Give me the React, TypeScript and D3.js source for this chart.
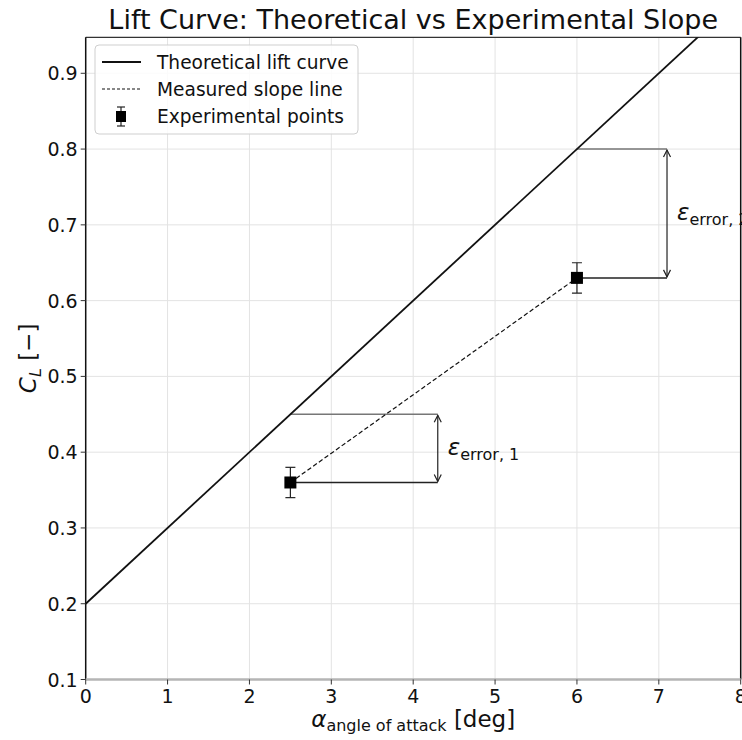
import React from "react";
import * as d3 from "d3";

const xTicks = [0, 1, 2, 3, 4, 5, 6, 7, 8];
const yTicks = [0.1, 0.2, 0.3, 0.4, 0.5, 0.6, 0.7, 0.8, 0.9];
const theoryAlpha = [0, 7.5];
const theoryCL = [0.2, 0.95];
const expAlpha = [2.5, 6];
const expCL = [0.36, 0.63];
const expErr = [0.02, 0.02];
const errTheoryCL = [0.45, 0.8];
const errArrowAlpha = [4.3, 7.1];
const errLabels = ["error, 1", "error, 2"];
const legendLabels = ["Theoretical lift curve", "Measured slope line", "Experimental points"];

const W = 742, H = 740;
const left = 85.7, right = 740.7, top = 37.3, bottom = 679.5;
const FONT = "DejaVu Sans, sans-serif";

export default function App() {
  const x = d3.scaleLinear().domain([0, 8]).range([left, right]);
  const y = d3.scaleLinear().domain([0.1, 0.9475]).range([bottom, top]);
  const line = d3.line<[number, number]>().x(d => x(d[0])).y(d => y(d[1]));
  const theory: [number, number][] = theoryAlpha.map((a, i) => [a, theoryCL[i]]);
  const meas: [number, number][] = expAlpha.map((a, i) => [a, expCL[i]]);

  const arrowHead = (px: number, py: number, dir: number) => {
    const s = 7, w = 3.5;
    return `M${px - w},${py - dir * s} L${px},${py} L${px + w},${py - dir * s}`;
  };

  return (
    <div style={{ position: "absolute", left: 0, top: 0, width: W, height: H, background: "#fff" }}>
      <svg width={W} height={H} style={{ display: "block", fontFamily: FONT }}>
        <defs>
          <clipPath id="plotclip">
            <rect x={left} y={top} width={right - left} height={bottom - top} />
          </clipPath>
        </defs>
        <rect x={0} y={0} width={W} height={H} fill="#fff" />
        <g stroke="#e3e3e3" strokeWidth={1}>
          {xTicks.map(t => (
            <line key={"gx" + t} x1={x(t)} x2={x(t)} y1={top} y2={bottom} />
          ))}
          {yTicks.map(t => (
            <line key={"gy" + t} x1={left} x2={right} y1={y(t)} y2={y(t)} />
          ))}
        </g>
        <line x1={left} x2={right} y1={top} y2={top} stroke="#333" strokeWidth={1.2} />
        <line x1={left} x2={left} y1={top} y2={bottom} stroke="#111" strokeWidth={1.5} />
        <line x1={right} x2={right} y1={top} y2={bottom} stroke="#111" strokeWidth={1.5} />
        <line x1={left} x2={right} y1={bottom} y2={bottom} stroke="#b5b5b5" strokeWidth={2.5} />
        <g stroke="#333" strokeWidth={1}>
          {xTicks.map(t => (
            <line key={"tx" + t} x1={x(t)} x2={x(t)} y1={bottom} y2={bottom + 5} />
          ))}
          {yTicks.map(t => (
            <line key={"ty" + t} x1={left - 5} x2={left} y1={y(t)} y2={y(t)} />
          ))}
        </g>
        <g fontSize={19} fill="#111">
          {xTicks.map(t => (
            <text key={"lx" + t} x={x(t)} y={bottom + 23} textAnchor="middle">{t}</text>
          ))}
          {yTicks.map(t => (
            <text key={"ly" + t} x={left - 8} y={y(t) + 7} textAnchor="end">{t.toFixed(1)}</text>
          ))}
        </g>
        <g clipPath="url(#plotclip)">
          {expAlpha.map((a, i) => (
            <g key={"ann" + i}>
              <line x1={x(a)} x2={x(errArrowAlpha[i])} y1={y(errTheoryCL[i])} y2={y(errTheoryCL[i])} stroke="#777" strokeWidth={1.5} />
              <line x1={x(a)} x2={x(errArrowAlpha[i])} y1={y(expCL[i])} y2={y(expCL[i])} stroke="#222" strokeWidth={1.5} />
              <line x1={x(errArrowAlpha[i])} x2={x(errArrowAlpha[i])} y1={y(errTheoryCL[i]) + 1} y2={y(expCL[i]) - 1} stroke="#222" strokeWidth={1.2} />
              <path d={arrowHead(x(errArrowAlpha[i]), y(errTheoryCL[i]) + 1, -1)} fill="none" stroke="#222" strokeWidth={1.2} />
              <path d={arrowHead(x(errArrowAlpha[i]), y(expCL[i]) - 1, 1)} fill="none" stroke="#222" strokeWidth={1.2} />
            </g>
          ))}
          <path d={line(theory) || ""} fill="none" stroke="#111" strokeWidth={1.8} />
          <path d={line(meas) || ""} fill="none" stroke="#111" strokeWidth={1.2} strokeDasharray="4.5,2.5" />
          {expAlpha.map((a, i) => (
            <g key={"pt" + i} stroke="#222" strokeWidth={1.2}>
              <line x1={x(a)} x2={x(a)} y1={y(expCL[i] - expErr[i])} y2={y(expCL[i] + expErr[i])} />
              <line x1={x(a) - 5} x2={x(a) + 5} y1={y(expCL[i] - expErr[i])} y2={y(expCL[i] - expErr[i])} />
              <line x1={x(a) - 5} x2={x(a) + 5} y1={y(expCL[i] + expErr[i])} y2={y(expCL[i] + expErr[i])} />
              <rect x={x(a) - 6} y={y(expCL[i]) - 6} width={12} height={12} fill="#000" stroke="none" />
            </g>
          ))}
        </g>
        {expAlpha.map((a, i) => {
          const ym = (y(errTheoryCL[i]) + y(expCL[i])) / 2;
          return (
            <text key={"eps" + i} x={x(errArrowAlpha[i]) + 10} y={ym + 7} fill="#111">
              <tspan fontSize={23} fontStyle="italic">ε</tspan>
              <tspan fontSize={16} dy={5}>{errLabels[i]}</tspan>
            </text>
          );
        })}
        <g>
          <rect x={95} y={45} width={263} height={89} rx={4} fill="#fff" fillOpacity={0.85} stroke="#cfcfcf" strokeWidth={1} />
          <line x1={102} x2={141} y1={62} y2={62} stroke="#111" strokeWidth={1.8} />
          <line x1={102} x2={141} y1={89} y2={89} stroke="#111" strokeWidth={1.2} strokeDasharray="3,2" />
          <g stroke="#222" strokeWidth={1.2}>
            <line x1={121} x2={121} y1={107} y2={126} />
            <line x1={117} x2={125} y1={107} y2={107} />
            <line x1={117} x2={125} y1={126} y2={126} />
            <rect x={116} y={111} width={10} height={11} fill="#000" stroke="none" />
          </g>
          {legendLabels.map((l, i) => (
            <text key={l} x={157} y={62 + 7 + i * 27} fontSize={18.6} fill="#111">{l}</text>
          ))}
        </g>
        <text x={(left + right) / 2} y={29} textAnchor="middle" fontSize={27} fill="#111">
          Lift Curve: Theoretical vs Experimental Slope
        </text>
        <text x={(left + right) / 2} y={727} textAnchor="middle" fill="#111">
          <tspan fontSize={23} fontStyle="italic">α</tspan>
          <tspan fontSize={16} dy={4}>angle of attack</tspan>
          <tspan fontSize={23} dy={-4}> [deg]</tspan>
        </text>
        <text transform={`translate(36,${(top + bottom) / 2}) rotate(-90)`} textAnchor="middle" fill="#111">
          <tspan fontSize={23} fontStyle="italic">C</tspan>
          <tspan fontSize={16} fontStyle="italic" dy={5}>L</tspan>
          <tspan fontSize={23} dy={-5}> [−]</tspan>
        </text>
      </svg>
    </div>
  );
}
